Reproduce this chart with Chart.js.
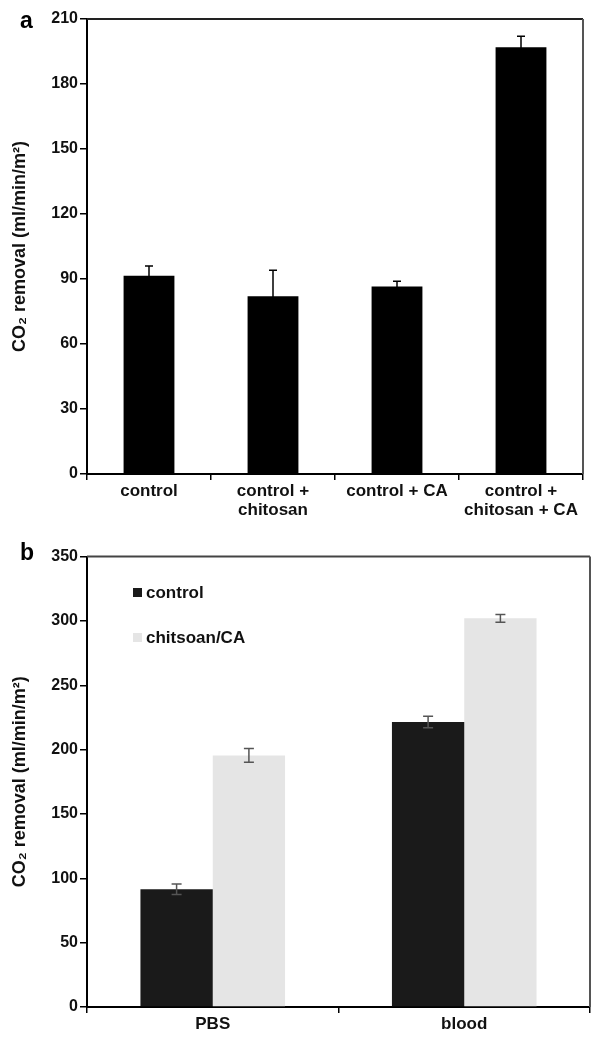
<!DOCTYPE html>
<html>
<head>
<meta charset="utf-8">
<script src="https://cdn.jsdelivr.net/npm/chart.js@4/dist/chart.umd.min.js"></script>
<style>
  body { margin: 0; background: #fff; }
  #page { position: relative; width: 602px; height: 1042px; }
  canvas { position: absolute; left: 0; }
  .panel { position: absolute; left: 20px; font: bold 23px "Liberation Sans", Arial, sans-serif; color: #000; }
</style>
</head>
<body>
<div id="page">
  <canvas id="chartA" width="602" height="545" style="top:0"></canvas>
  <canvas id="chartB" width="602" height="497" style="top:545px"></canvas>
  <div class="panel" style="top:7px">a</div>
  <div class="panel" style="top:539px">b</div>
</div>
<script>
// Panel a data
const labelsA = [['control'], ['control +', 'chitosan'], ['control + CA'], ['control +', 'chitosan + CA']];
const valuesA = [91.5, 82, 86.5, 197];
const errorsA = [4.5, 12, 2.5, 5];

// Panel b data
const labelsB = ['PBS', 'blood'];
const controlB = [91.5, 221.5];
const controlErrB = [4, 4.5];
const chitosanB = [195.5, 302];
const chitosanErrB = [5.4, 3];

const FONT = '"Liberation Sans", Arial, sans-serif';
const yTitle = 'CO\u2082 removal (ml/min/m\u00B2)';

// Draws error bars from dataset.errors
const errorBars = {
    id: 'errorBars',
    afterDatasetsDraw(chart, args, opts) {
        const ctx = chart.ctx;
        const y = chart.scales.y;
        chart.data.datasets.forEach((ds, i) => {
            if (!ds.errors) return;
            const meta = chart.getDatasetMeta(i);
            meta.data.forEach((bar, j) => {
                const v = ds.data[j], e = ds.errors[j];
                const top = y.getPixelForValue(v + e);
                const bot = y.getPixelForValue(v - e);
                ctx.save();
                ctx.strokeStyle = opts.color;
                ctx.lineWidth = 1.5;
                ctx.beginPath();
                ctx.moveTo(bar.x, top);
                ctx.lineTo(bar.x, bot);
                ctx.moveTo(bar.x - opts.cap, top);
                ctx.lineTo(bar.x + opts.cap, top);
                ctx.moveTo(bar.x - opts.cap, bot);
                ctx.lineTo(bar.x + opts.cap, bot);
                ctx.stroke();
                ctx.restore();
            });
        });
    }
};

// Top and right frame lines of the plot box
const frame = {
    id: 'frame',
    afterDraw(chart, args, opts) {
        const { left, right, top, bottom } = chart.chartArea;
        const ctx = chart.ctx;
        ctx.save();
        ctx.lineWidth = 2;
        ctx.strokeStyle = opts.topColor;
        ctx.beginPath();
        ctx.moveTo(left, top);
        ctx.lineTo(right, top);
        ctx.stroke();
        ctx.strokeStyle = opts.rightColor;
        ctx.beginPath();
        ctx.moveTo(right, top);
        ctx.lineTo(right, bottom);
        ctx.stroke();
        ctx.restore();
    }
};

// Legend drawn inside the plot area
const innerLegend = {
    id: 'innerLegend',
    afterDraw(chart, args, opts) {
        if (!opts.show) return;
        const ctx = chart.ctx;
        ctx.save();
        ctx.font = 'bold 17px ' + FONT;
        ctx.textBaseline = 'middle';
        chart.data.datasets.forEach((ds, i) => {
            const yy = opts.y + i * opts.gap;
            ctx.fillStyle = ds.backgroundColor;
            ctx.fillRect(opts.x, yy - 4, 9, 9);
            ctx.fillStyle = '#111';
            ctx.fillText(ds.label, opts.x + 13, yy + 1);
        });
        ctx.restore();
    }
};

function axes(maxY, step, xHeight, yWidth) {
    return {
        x: {
            border: { color: '#000', width: 2 },
            grid: { drawOnChartArea: false, drawTicks: true, tickLength: 6, color: '#000', lineWidth: 1.5, offset: true },
            ticks: { color: '#111', font: { family: FONT, size: 17, weight: 'bold', lineHeight: 1.12 }, padding: 2, maxRotation: 0, autoSkip: false },
            afterFit(scale) { scale.height = xHeight; }
        },
        y: {
            min: 0,
            max: maxY,
            border: { color: '#000', width: 2 },
            grid: { drawOnChartArea: false, drawTicks: true, tickLength: 7, color: '#000', lineWidth: 1.5 },
            ticks: { stepSize: step, color: '#111', font: { family: FONT, size: 16, weight: 'bold' }, padding: 2 },
            title: { display: true, text: yTitle, color: '#111', font: { family: FONT, size: 18, weight: 'bold' }, padding: { top: 9, bottom: 0 } },
            afterFit(scale) { scale.width = yWidth; }
        }
    };
}

Chart.register(errorBars, frame, innerLegend);

new Chart(document.getElementById('chartA'), {
    type: 'bar',
    data: {
        labels: labelsA,
        datasets: [{
            label: 'a',
            data: valuesA,
            errors: errorsA,
            backgroundColor: '#000',
            categoryPercentage: 1,
            barPercentage: 0.41
        }]
    },
    options: {
        responsive: false,
        animation: false,
        layout: { padding: { left: 0, right: 19, top: 19, bottom: 0 } },
        scales: axes(210, 30, 71, 87),
        plugins: {
            legend: { display: false },
            tooltip: { enabled: false },
            errorBars: { color: '#000', cap: 4 },
            frame: { topColor: '#222', rightColor: '#555' },
            innerLegend: { show: false }
        }
    }
});

new Chart(document.getElementById('chartB'), {
    type: 'bar',
    data: {
        labels: labelsB,
        datasets: [
            {
                label: 'control',
                data: controlB,
                errors: controlErrB,
                backgroundColor: '#1a1a1a',
                categoryPercentage: 0.575,
                barPercentage: 1
            },
            {
                label: 'chitsoan/CA',
                data: chitosanB,
                errors: chitosanErrB,
                backgroundColor: '#e5e5e5',
                categoryPercentage: 0.575,
                barPercentage: 1
            }
        ]
    },
    options: {
        responsive: false,
        animation: false,
        layout: { padding: { left: 0, right: 12, top: 7, bottom: 0 } },
        scales: axes(350, 50, 35, 87),
        plugins: {
            legend: { display: false },
            tooltip: { enabled: false },
            errorBars: { color: '#555', cap: 5 },
            frame: { topColor: '#444', rightColor: '#555' },
            innerLegend: { show: true, x: 133, y: 47, gap: 45 }
        }
    }
});
</script>
</body>
</html>
